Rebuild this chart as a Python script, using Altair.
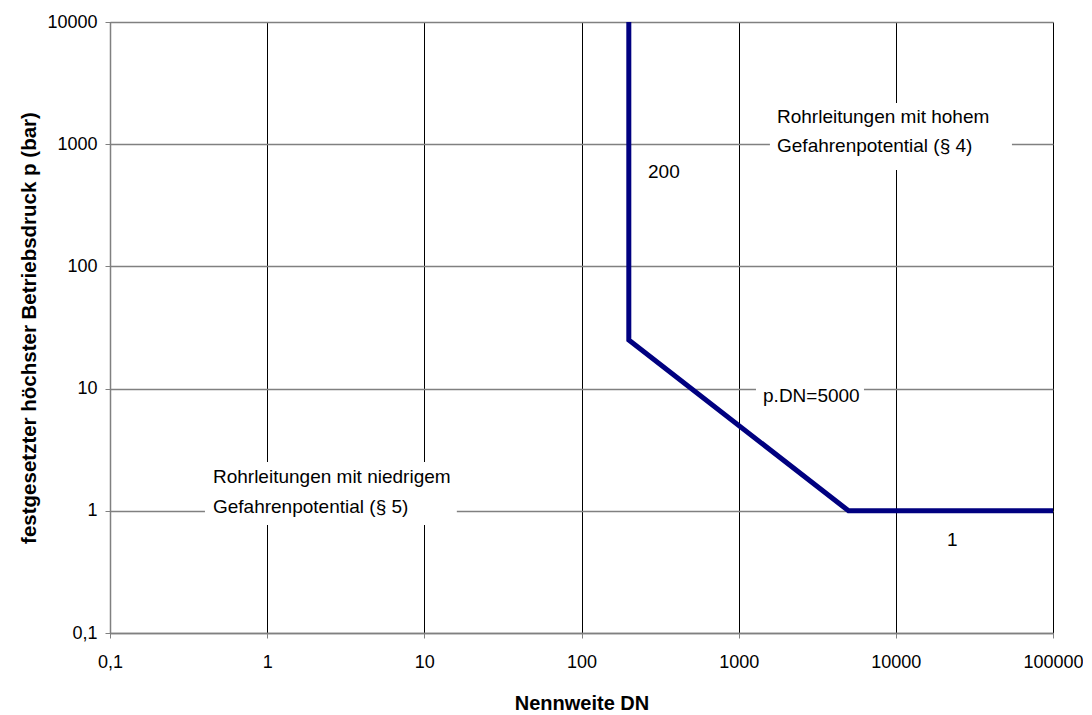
import altair as alt
import pandas as pd

# Boundary line
dn = [200, 200, 5000, 100000]
p = [10000, 25, 1, 1]

# Tick values / labels
tick_values = [0.1, 1, 10, 100, 1000, 10000, 100000]
tick_labels = ["0,1", "1", "10", "100", "1000", "10000", "100000"]
y_tick_values = [0.1, 1, 10, 100, 1000, 10000]

# Annotation texts and anchor positions (data coordinates)
ann_text = ["200", "Rohrleitungen mit hohem", "Gefahrenpotential (§ 4)",
            "Rohrleitungen mit niedrigem", "Gefahrenpotential (§ 5)",
            "p.DN=5000", "1"]
ann_x = [265, 1754, 1754, 0.452, 0.452, 1429, 21150]
ann_y = [590, 1670, 967, 1.89, 1.074, 8.7, 0.577]

# White label backgrounds (data extents)
box_x1 = [1581, 0.402, 1289]
box_x2 = [54800, 16.1, 6270]
box_y1 = [615, 0.766, 6.68]
box_y2 = [2173, 2.51, 11.76]

FONT = "Liberation Sans"

line_df = pd.DataFrame({"DN": dn, "p": p, "order": list(range(len(dn)))})
ann_df = pd.DataFrame({"x": ann_x, "y": ann_y, "t": ann_text})
box_df = pd.DataFrame({"x1": box_x1, "x2": box_x2, "y1": box_y1, "y2": box_y2})

label_expr = " : ".join(
    [f"datum.value == {v} ? '{l}'" for v, l in zip(tick_values, tick_labels)]
) + " : ''"

xscale = alt.Scale(type="log", domain=[0.1, 100000], nice=False)
yscale = alt.Scale(type="log", domain=[0.1, 10000], nice=False)

xaxis = alt.Axis(values=tick_values, labelExpr=label_expr, title="Nennweite DN",
                 grid=True, gridColor="#000000", gridWidth=1,
                 domainColor="#808080", domainWidth=1.5, tickColor="#808080",
                 tickSize=5, labelPadding=15, labelFontSize=18, labelFont=FONT,
                 labelColor="#000000", titleFont=FONT, titleFontSize=20,
                 titleFontWeight="bold", titleColor="#000000", titlePadding=22,
                 labelFlush=False)
yaxis = alt.Axis(values=y_tick_values, labelExpr=label_expr,
                 title="festgesetzter höchster Betriebsdruck p (bar)",
                 grid=True, gridColor="#808080", gridWidth=1.3,
                 domainColor="#808080", domainWidth=1.5, tickColor="#808080",
                 tickSize=5, labelPadding=8, labelFontSize=18, labelFont=FONT,
                 labelColor="#000000", titleFont=FONT, titleFontSize=20.5,
                 titleFontWeight="bold", titleColor="#000000", titlePadding=7,
                 labelFlush=False)

base_line = alt.Chart(line_df).mark_line(color="#000080", strokeWidth=5, strokeCap="butt", clip=True).encode(
    x=alt.X("DN:Q", scale=xscale, axis=xaxis),
    y=alt.Y("p:Q", scale=yscale, axis=yaxis),
    order="order:Q",
)

boxes = alt.Chart(box_df).mark_rect(color="white").encode(
    x=alt.X("x1:Q", scale=xscale), x2="x2:Q",
    y=alt.Y("y1:Q", scale=yscale), y2="y2:Q",
)

texts = alt.Chart(ann_df).mark_text(align="left", baseline="middle", font=FONT,
                                    fontSize=19, color="#000000").encode(
    x=alt.X("x:Q", scale=xscale),
    y=alt.Y("y:Q", scale=yscale),
    text="t:N",
)

chart = alt.layer(boxes, base_line, texts).properties(
    width=943, height=611,
    autosize=alt.AutoSizeParams(type="none"),
    padding={"left": 102, "top": 14, "right": 30, "bottom": 90},
).configure_view(stroke=None).configure(background="white")

chart.save("out.html", embed_options={"renderer": "svg", "actions": False})
